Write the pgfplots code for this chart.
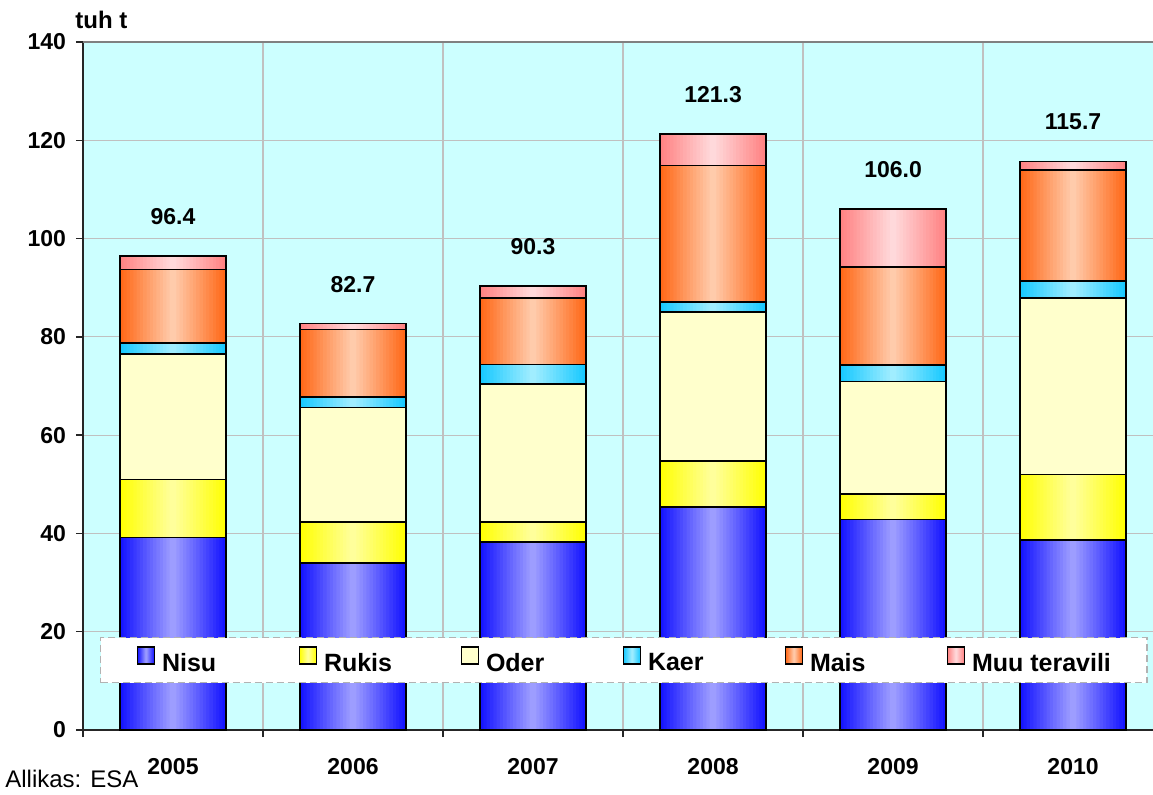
\documentclass[border=0pt]{standalone}
\usepackage{pgfplots}
\pgfplotsset{compat=1.18}
\usepackage{pgfplotstable}
\usepackage{fontspec}
\setmainfont{Liberation Sans}
\definecolor{bg}{RGB}{204,255,255}
\definecolor{gridc}{RGB}{192,192,192}
\definecolor{nisuD}{RGB}{16,16,255}
\definecolor{nisuL}{RGB}{162,162,255}
\definecolor{rukD}{RGB}{255,255,0}
\definecolor{rukL}{RGB}{255,255,160}
\definecolor{oder}{RGB}{255,255,204}
\definecolor{kaerD}{RGB}{20,200,255}
\definecolor{kaerL}{RGB}{165,238,255}
\definecolor{maisD}{RGB}{255,102,20}
\definecolor{maisL}{RGB}{255,206,176}
\definecolor{muuD}{RGB}{255,128,128}
\definecolor{muuL}{RGB}{255,220,222}

\pgfplotstableread{
x nisu rukis oder kaer mais muu total
0 39.2 11.8 25.5 2.3 14.9 2.7 96.4
1 34.0 8.3 23.3 2.2 13.7 1.2 82.7
2 38.3 4.0 28.1 4.0 13.5 2.4 90.3
3 45.4 9.3 30.3 2.1 27.8 6.4 121.3
4 42.8 5.2 22.9 3.4 19.9 11.8 106.0
5 38.7 13.3 35.9 3.5 22.5 1.8 115.7
}\data

\pgfplotsset{
  frame/.style={
    scale only axis, width=535pt, height=344pt,
    xmin=-0.5, xmax=5.444, ymin=0, ymax=140,
  },
  common/.style={frame, ybar stacked},
}
\newcommand{\barlayer}[2]{%
\begin{axis}[common, hide axis, bar width=#1pt,
  every axis plot/.append style={draw=none}]
\addplot[fill=nisuL!#2!nisuD] table[x=x,y=nisu]{\data};
\addplot[fill=rukL!#2!rukD] table[x=x,y=rukis]{\data};
\addplot[fill=oder] table[x=x,y=oder]{\data};
\addplot[fill=kaerL!#2!kaerD] table[x=x,y=kaer]{\data};
\addplot[fill=maisL!#2!maisD] table[x=x,y=mais]{\data};
\addplot[fill=muuL!#2!muuD] table[x=x,y=muu]{\data};
\end{axis}}
\newcommand{\legsq}[2]{\draw[black, solid, line width=0.7pt, left color=#1, right color=#1, middle color=#2] (0pt,0pt) rectangle (8.5pt,8.5pt);}

\begin{document}
\begin{tikzpicture}
\begin{axis}[
  frame,
  name=ax,
  axis background/.style={fill=bg},
  axis x line*=bottom,
  axis y line*=left,
  axis line style={black!85, line width=1pt},
  ytick={0,20,...,140},
  ymajorgrids,
  xtick={-0.5,0.5,...,5.5},
  xticklabels={},
  xmajorgrids,
  grid style={gridc, line width=0.6pt},
  extra x ticks={0,1,2,3,4,5},
  extra x tick labels={2005,2006,2007,2008,2009,2010},
  extra x tick style={grid=none, major tick length=0pt},
  tick align=outside,
  major tick length=3.5pt,
  tick style={black!85, line width=0.7pt},
  /pgf/number format/assume math mode=true,
  ticklabel style={font=\bfseries\fontsize{11.5}{13}\selectfont},
  xticklabel style={yshift=-10.5pt},
  yticklabel style={xshift=-1.5pt},
]
\end{axis}
\foreach \i in {0,...,15} {
  \pgfmathsetmacro\w{53*(1-\i/16)}
  \pgfmathsetmacro\p{100*(\i+0.5)/16}
  \barlayer{\w}{\p}
}
\begin{axis}[common, hide axis, bar width=53pt,
  every axis plot/.append style={draw=black, fill=none, line width=0.8pt},
  legend columns=6,
  legend style={
    at={(0.0159,0.135)}, anchor=north west,
    draw=gray!60, dash pattern=on 3.5pt off 2pt, line width=0.6pt,
    fill=white,
    inner xsep=18pt, inner ysep=4.2pt,
    font=\bfseries\fontsize{12.5}{14}\selectfont,
    nodes={inner sep=0pt},
    /tikz/every odd column/.append style={column sep=3.5pt},
  },
]
\addplot[legend image code/.code={\legsq{nisuD}{nisuL}}] table[x=x,y=nisu]{\data};
\addlegendentry{\makebox[68.3pt][l]{Nisu}}
\addplot[legend image code/.code={\legsq{rukD}{rukL}}] table[x=x,y=rukis]{\data};
\addlegendentry{\makebox[68.3pt][l]{Rukis}}
\addplot[legend image code/.code={\legsq{oder}{oder}}] table[x=x,y=oder]{\data};
\addlegendentry{\makebox[68.3pt][l]{Oder}}
\addplot[legend image code/.code={\legsq{kaerD}{kaerL}}] table[x=x,y=kaer]{\data};
\addlegendentry{\makebox[68.3pt][l]{Kaer}}
\addplot[legend image code/.code={\legsq{maisD}{maisL}}] table[x=x,y=mais]{\data};
\addlegendentry{\makebox[68.3pt][l]{Mais}}
\addplot[legend image code/.code={\legsq{muuD}{muuL}}] table[x=x,y=muu]{\data};
\addlegendentry{Muu teravili}
\draw[gray, line width=1pt] (rel axis cs:0,1) -- (rel axis cs:1,1);
\end{axis}
\begin{axis}[
  frame, hide axis,
  nodes near coords,
  nodes near coords style={font=\bfseries\fontsize{11.5}{13}\selectfont, anchor=center, text=black},
  point meta=explicit symbolic,
]
\addplot[only marks, mark=none, draw=none] table[x=x, y expr=\thisrow{total}+8, meta=total]{\data};
\end{axis}
\node[anchor=base west, inner sep=0pt, font=\bfseries\fontsize{12}{14}\selectfont] at ([xshift=-4pt,yshift=7pt]ax.north west) {tuh t};
\node[anchor=base west, font=\fontsize{12}{14}\selectfont, inner sep=0pt] at ([xshift=-39pt,yshift=-28.5pt]ax.south west) {Allikas: ESA};
\pgfresetboundingbox
\path ([xshift=-41.5pt,yshift=-32pt]ax.south west) rectangle ([yshift=21pt]ax.north east);
\end{tikzpicture}
\end{document}
